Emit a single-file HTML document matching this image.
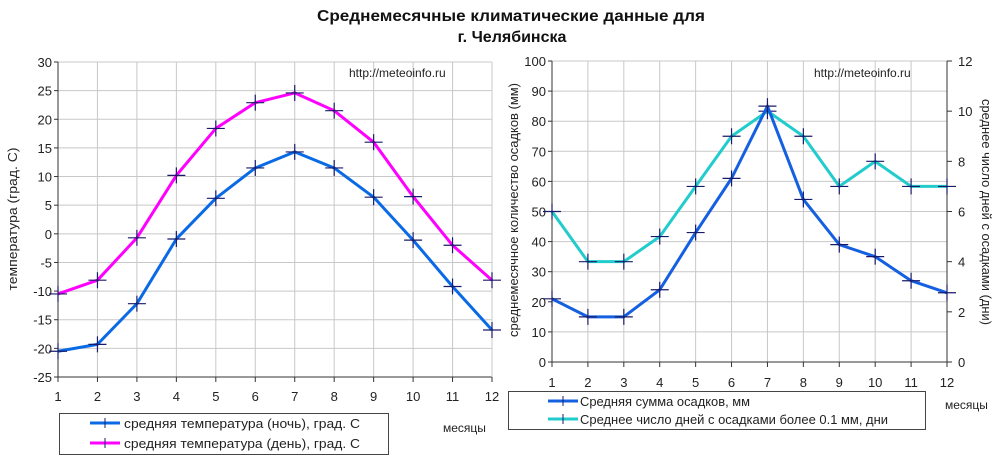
<!DOCTYPE html>
<html><head><meta charset="utf-8"><style>
html,body{margin:0;padding:0;background:#fff;}
svg{display:block;font-family:"Liberation Sans",Arial,sans-serif;}
</style></head><body>
<svg id="s" width="1000" height="461" viewBox="0 0 1000 461" xmlns="http://www.w3.org/2000/svg">
<rect width="1000" height="461" fill="#fff"/>
<text x="511" y="21" text-anchor="middle" font-size="16" font-weight="bold" fill="#111" textLength="388" lengthAdjust="spacingAndGlyphs">Среднемесячные климатические данные для</text>
<text x="512" y="42" text-anchor="middle" font-size="16" font-weight="bold" fill="#111">г.  Челябинска</text>
<g id="g"></g>
</svg>
<script>
var g=document.getElementById('g'),h='';
function L(x1,y1,x2,y2,c,w){h+='<line x1="'+x1+'" y1="'+y1+'" x2="'+x2+'" y2="'+y2+'" stroke="'+c+'" stroke-width="'+(w||1)+'"/>';}
function T(x,y,t,a,s,extra){h+='<text x="'+x+'" y="'+y+'" font-size="'+(s||12)+'" text-anchor="'+(a||'start')+'" fill="#222" '+(extra||'')+'>'+t+'</text>';}
function poly(pts,c){h+='<polyline points="'+pts.map(p=>p.join(',')).join(' ')+'" fill="none" stroke="'+c+'" stroke-width="3" stroke-linejoin="round"/>';
 pts.forEach(p=>{L(p[0]-9,p[1],p[0]+9,p[1],'#1a1a6a',1.2);L(p[0],p[1]-8,p[0],p[1]+8,'#1a1a6a',1.2);});}
// left chart
var lx0=58,lx1=492,ly0=62,ly1=377;
function ly(v){return ly1-(v+25)*(ly1-ly0)/55;}
function lxm(i){return lx0+(i-1)*(lx1-lx0)/11;}
for(var v=-25;v<=30;v+=5){var y=ly(v);L(lx0,y,lx1,y,'#c8c8c8');L(lx0-4,y,lx0,y,'#333');T(lx0-6,y+5,v,'end',13);}
for(var i=1;i<=12;i++){var x=lxm(i);L(x,ly0,x,ly1,'#c8c8c8');L(x,ly1,x,ly1+5,'#333');T(x,ly1+24,i,'middle',13);}
L(lx0,ly0,lx0,ly1,'#333');L(lx0,ly1,lx1,ly1,'#333');L(lx1,ly0,lx1,ly1,'#c8c8c8');
T(349,77,'http://meteoinfo.ru','start',12);
h+='<text transform="translate(17,219) rotate(-90)" font-size="13" text-anchor="middle" fill="#222" textLength="143" lengthAdjust="spacingAndGlyphs">температура (град. С)</text>';
var nb=[-20.5,-19.3,-12.2,-0.9,6.2,11.5,14.3,11.5,6.4,-1.1,-9.2,-16.8];
var nd=[-10.5,-8.1,-0.7,10.2,18.4,22.9,24.6,21.5,16.0,6.5,-2,-8.1];
poly(nd.map((v,i)=>[lxm(i+1),ly(v)]),'#ff00ff');
poly(nb.map((v,i)=>[lxm(i+1),ly(v)]),'#0a6ae6');
h+='<rect x="59.5" y="413.5" width="329" height="41" fill="#fff" stroke="#444"/>';
L(90,423,120,423,'#0a6ae6',3);L(105,418,105,428,'#1a1a6a');T(124,428,'средняя температура (ночь), град. С','start',13,'textLength="236" lengthAdjust="spacingAndGlyphs"');
L(90,443,120,443,'#ff00ff',3);L(105,438,105,448,'#1a1a6a');T(124,448,'средняя температура (день), град. С','start',13,'textLength="236" lengthAdjust="spacingAndGlyphs"');
T(443,432,'месяцы','start',12);
// right chart
var rx0=552,rx1=947,ry0=61,ry1=362;
function ry(v){return ry1-v*(ry1-ry0)/100;}
function rxm(i){return rx0+(i-1)*(rx1-rx0)/11;}
for(var v=0;v<=100;v+=10){var y=ry(v);L(rx0,y,rx1,y,'#c8c8c8');L(rx0-4,y,rx0,y,'#333');T(rx0-6,y+5,v,'end',13);}
for(var d=0;d<=12;d+=2){var y=ry(d*100/12);L(rx1,y,rx1+5,y,'#333');T(rx1+11,y+5,d,'start',13);}
for(var i=1;i<=12;i++){var x=rxm(i);L(x,ry0,x,ry1,'#c8c8c8');L(x,ry1,x,ry1+5,'#333');T(x,ry1+25,i,'middle',13);}
L(rx0,ry0,rx0,ry1,'#333');L(rx0,ry1,rx1,ry1,'#333');L(rx1,ry0,rx1,ry1,'#333');
T(814,77,'http://meteoinfo.ru','start',12);
h+='<text transform="translate(518,210) rotate(-90)" font-size="13" text-anchor="middle" fill="#222" textLength="254" lengthAdjust="spacingAndGlyphs">среднемесячное количество осадков (мм)</text>';
h+='<text transform="translate(982,212) rotate(90)" font-size="13" text-anchor="middle" fill="#222" textLength="226" lengthAdjust="spacingAndGlyphs">среднее число дней с осадками (дни)</text>';
var pr=[21,15,15,24,43,61,85,54,39,35,27,23];
var dy=[6,4,4,5,7,9,10,9,7,8,7,7];
poly(dy.map((v,i)=>[rxm(i+1),ry(v*100/12)]),'#22cccc');
poly(pr.map((v,i)=>[rxm(i+1),ry(v)]),'#1560e0');
h+='<rect x="508.5" y="391.5" width="417" height="38" fill="#fff" stroke="#444"/>';
L(548,401,578,401,'#1560e0',3);L(563,396,563,406,'#1a1a6a');T(580,406,'Средняя сумма осадков, мм','start',13,'textLength="170" lengthAdjust="spacingAndGlyphs"');
L(548,419,578,419,'#22cccc',3);L(563,414,563,424,'#1a1a6a');T(580,424,'Среднее число дней с  осадками более 0.1 мм, дни','start',13,'textLength="308" lengthAdjust="spacingAndGlyphs"');
T(945,409,'месяцы','start',12);
g.innerHTML=h;
</script>
</body></html>
